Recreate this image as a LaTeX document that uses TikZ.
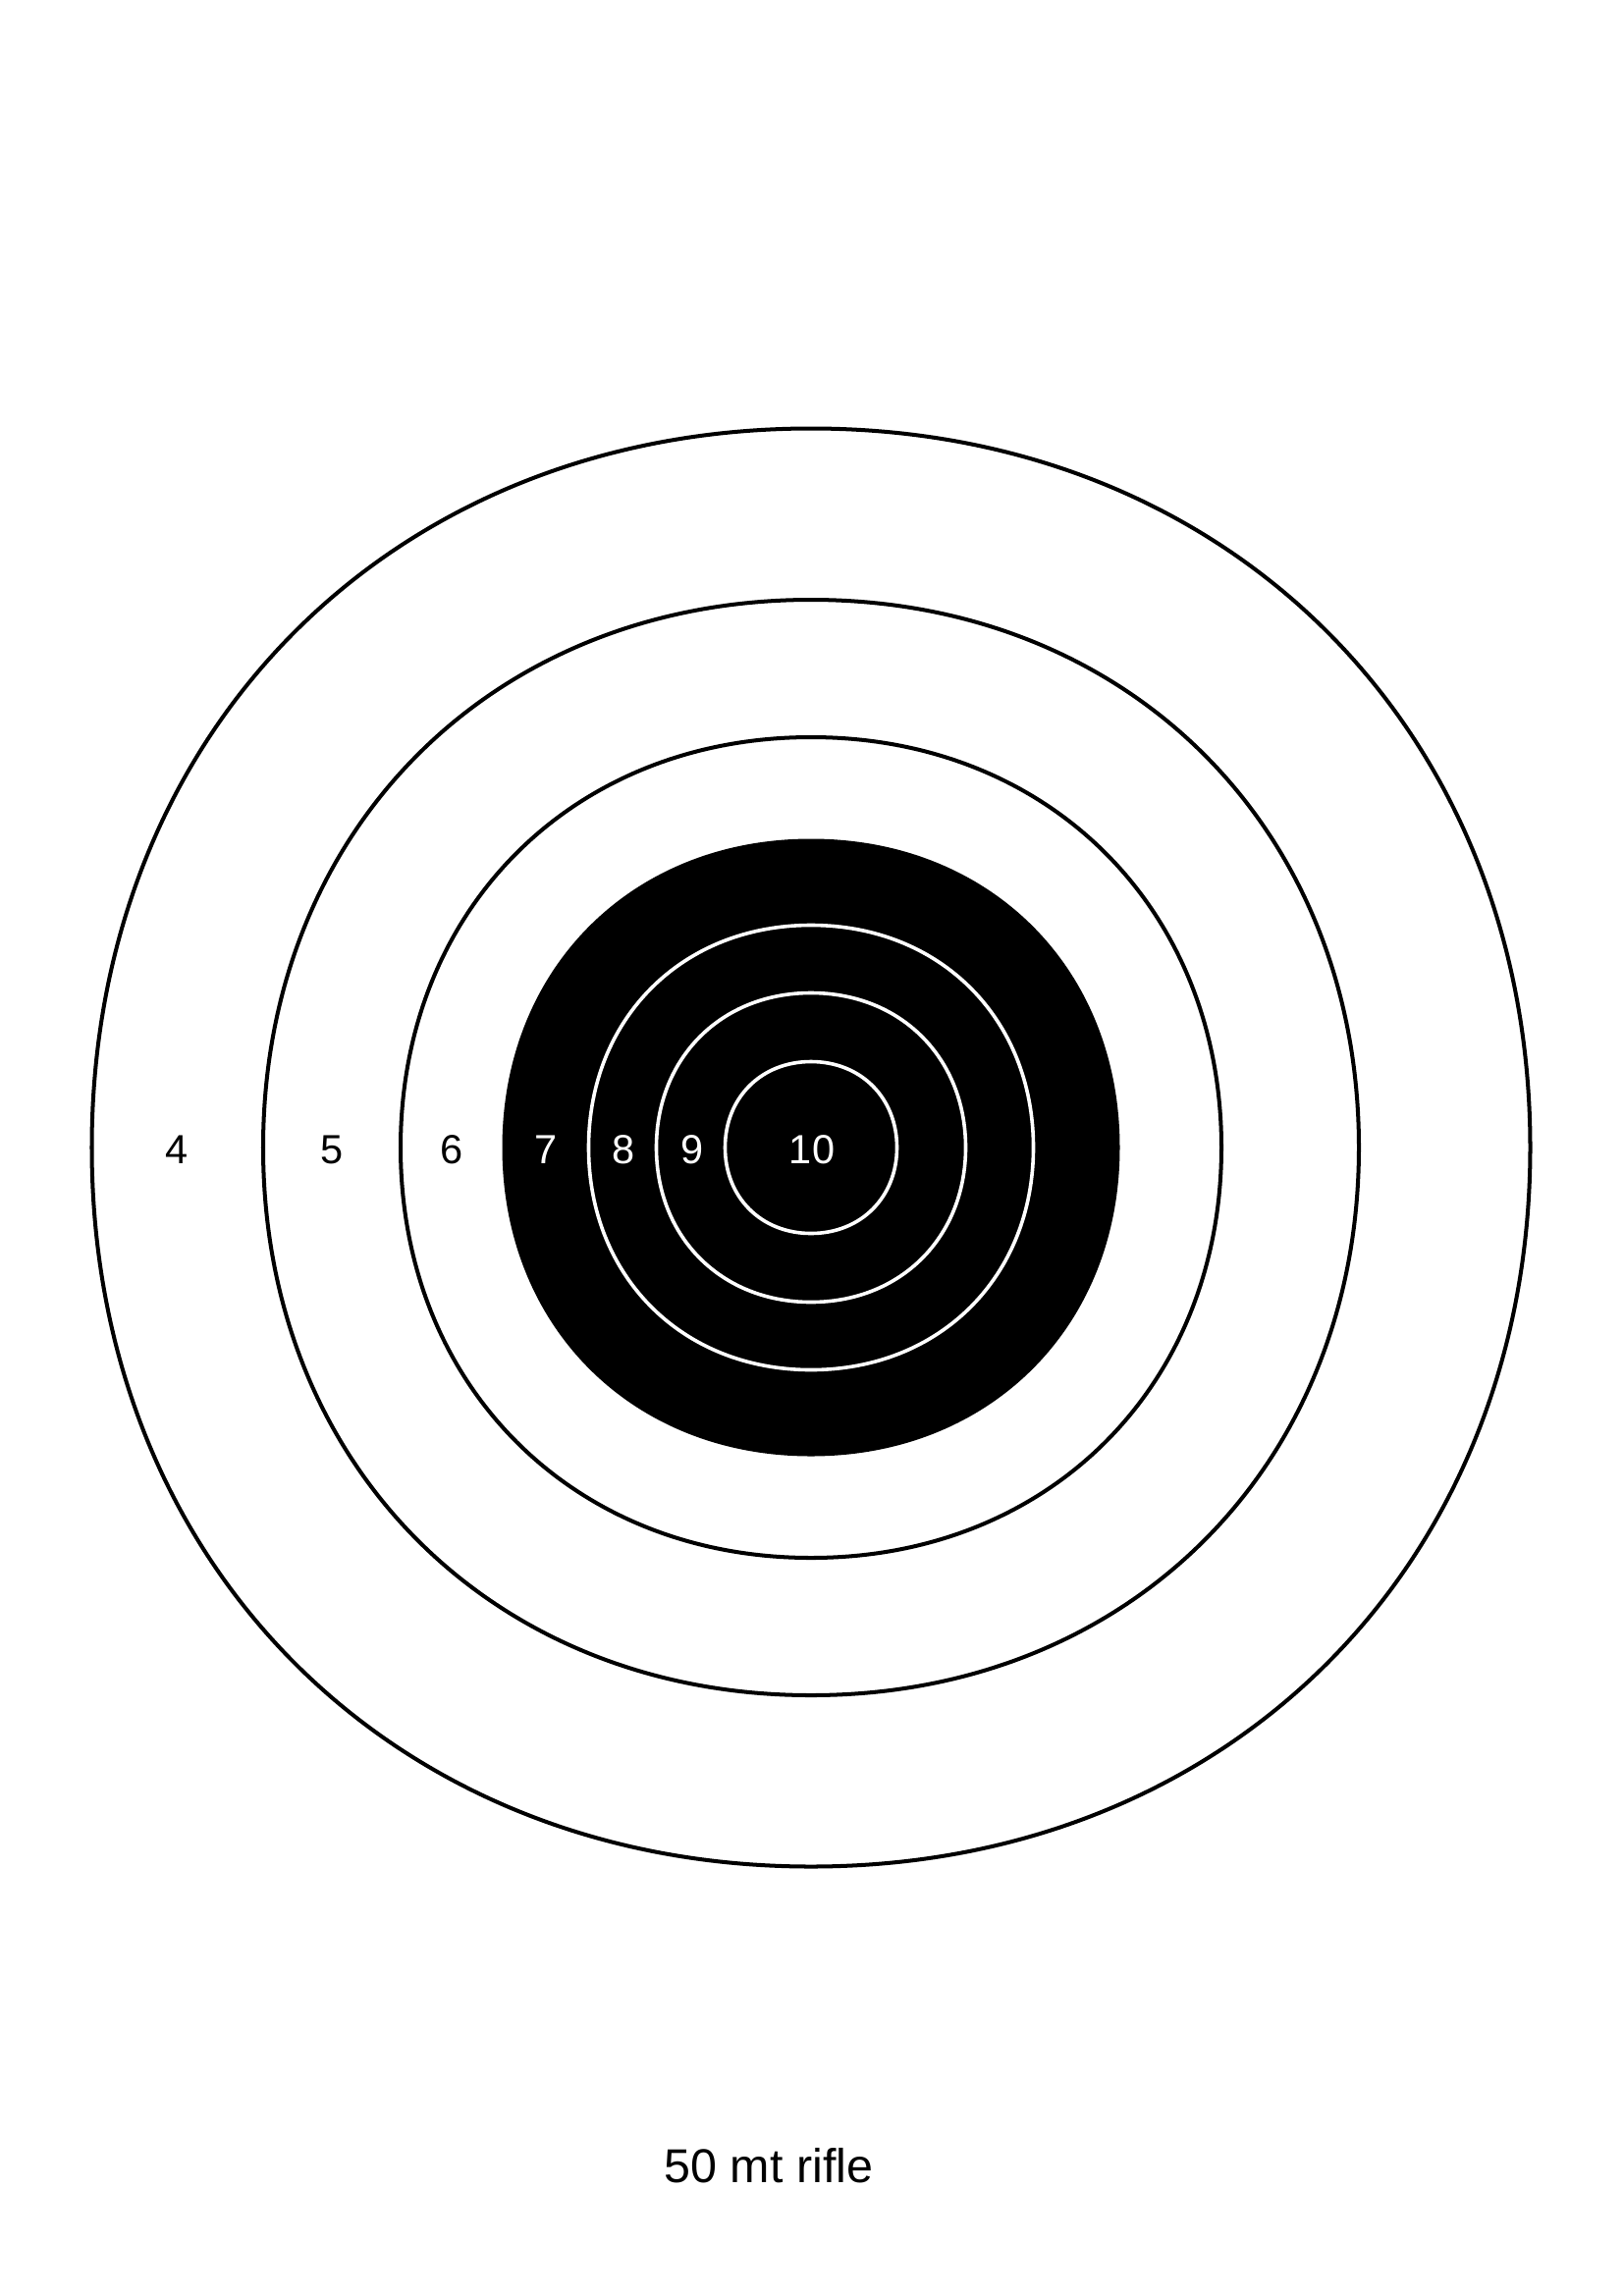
\documentclass[tikz,border=0pt]{standalone}
\usepackage{fontspec}
\setmainfont{Liberation Sans}
% one ring of the target, a slightly squared circle of radius #1
\newcommand\ringpath[1]{(#1,0) .. controls (#1,0.58*#1) and (0.58*#1,#1) .. (0,#1)
  .. controls (-0.58*#1,#1) and (-#1,0.58*#1) .. (-#1,0)
  .. controls (-#1,-0.58*#1) and (-0.58*#1,-#1) .. (0,-#1)
  .. controls (0.58*#1,-#1) and (#1,-0.58*#1) .. (#1,0) -- cycle}
\begin{document}
\begin{tikzpicture}[x=0.12704mm,y=-0.12704mm,
    blackring/.style={draw=black,line width=1.45pt},
    whitering/.style={draw=white,line width=1.3pt},
    score/.style={font=\fontsize{15}{18}\selectfont,inner sep=0pt}]
    \fill[white] (0,0) rectangle (1653,2339);
    \useasboundingbox (0,0) rectangle (1653,2339);
    \coordinate (c) at (826,1169);

    \begin{scope}[shift={(c)}]
    \foreach \r in {732.5,558,418}
        \draw[blackring] \ringpath{\r};
    \fill[black] \ringpath{314.5};
    \foreach \r in {226.5,157.5,87.5}
        \draw[whitering] \ringpath{\r};
    \end{scope}

    % ring scores
    \foreach \s/\x/\col in {4/180/black,5/338/black,6/460/black,
                            7/556/white,8/635/white,9/705/white,10/827/white}
        \node[score,text=\col] (s\s) at (\x,1171) {\s};

    \node[font=\fontsize{17.5}{21}\selectfont,anchor=base,inner sep=0pt] (title) at (783,2223) {50 mt rifle};
\end{tikzpicture}
\end{document}
